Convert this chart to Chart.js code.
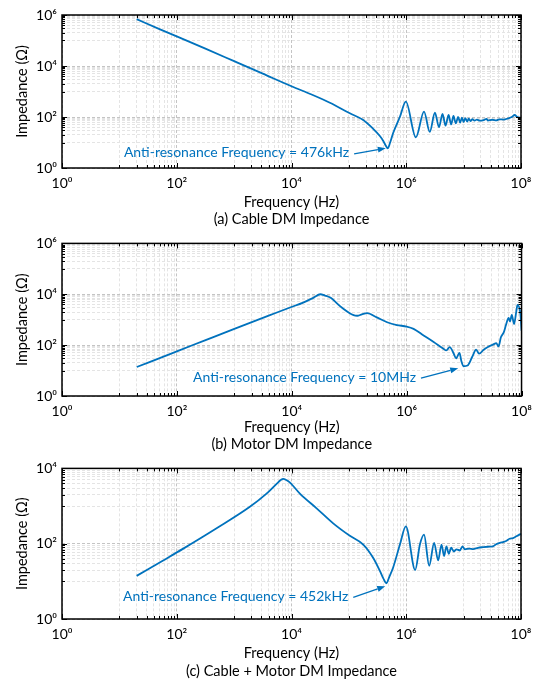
<!DOCTYPE html>
<html><head><meta charset="utf-8">
<script src="https://cdn.jsdelivr.net/npm/chart.js@4"></script>
<style>
html,body{margin:0;padding:0;background:#fff;}
body{width:539px;height:682px;position:relative;overflow:hidden;}
.panel{position:absolute;left:0;width:539px;}
</style></head><body>
<div class="panel" style="top:0;height:230px"><canvas id="ca"></canvas></div>
<div class="panel" style="top:230px;height:225px"><canvas id="cb"></canvas></div>
<div class="panel" style="top:455px;height:227px"><canvas id="cc"></canvas></div>
<script>
// ---- data ----
const cableFreq = [20,50,100,316,1000,3160,1e4,22400,46700,104000,178000,263000,347000,398000,440000,476000,520000,589000,776000,984000,1.47e6,2.04e6,2.57e6,3.16e6,3.72e6,4.29e6,4.84e6,5.46e6,6.07e6,6.65e6,7.31e6,8.02e6,8.71e6,9.33e6,1e7,1.07e7,1.15e7,1.23e7,1.32e7,1.41e7,1.55e7,1.7e7,1.9e7,2.24e7,2.51e7,2.63e7,3.16e7,3.72e7,4.17e7,5.0e7,6.0e7,6.9e7,7.76e7,8.7e7,1e8];
const cableZ    = [6.9e5,2.8e5,1.45e5,4.8e4,1.55e4,5.0e3,1.6e3,760,363,140,76,35,18,11.5,7.5,5.9,9.5,23,102,400,16,162,26,148,40,132,46,120,51,110,56,102,60,95,63,91,66,87,69,83,72,79,72,76,85,72,78,74,81,79,89,100,120,98,95];

const motorFreq = [20,100,316,1000,4170,9330,15800,24000,31300,38000,46700,74100,119000,138000,166000,204000,302000,457000,676000,1e6,1.32e6,1.97e6,2.95e6,4.37e6,4.9e6,5.62e6,6.61e6,7.24e6,8.32e6,8.91e6,9.77e6,1.15e7,1.38e7,1.62e7,1.82e7,2.19e7,2.69e7,3.24e7,3.63e7,3.98e7,4.37e7,4.9e7,5.37e7,5.96e7,6.31e7,6.76e7,7.41e7,8.13e7,8.51e7,9.55e7,1e8];
const motorZ    = [13.8,57,158,437,1510,3020,4680,7410,10000,8900,7400,3020,1510,1430,1620,1820,1230,794,617,537,437,240,132,72,62,83,46,30,50,25,14.8,15.8,34,66,46,66,89,107,120,89,204,316,631,1175,851,1550,676,2240,3800,1660,372];

const combFreq = [20,58,130,495,1880,3670,5500,6600,7160,7940,9330,14000,27400,53300,104000,178000,263000,347000,398000,452000,501000,589000,776000,984000,1.43e6,1.73e6,2.04e6,2.51e6,3.06e6,3.6e6,4.12e6,4.57e6,5.01e6,5.52e6,6.07e6,6.76e6,7.52e6,8.59e6,9.55e6,1.05e7,1.26e7,1.46e7,1.78e7,2.19e7,2.63e7,3.24e7,3.63e7,4.27e7,5.01e7,5.62e7,6.31e7,7.24e7,8.32e7,1e8];
const combZ    = [14,36,74,257,955,2140,3890,5000,5250,5000,4270,2140,871,347,162,95,43,19,12,8.9,12.6,23,95,288,20,95,174,26,105,36,95,47,85,54,78,62,71,66,85,71,74,72,78,81,83,85,95,105,112,120,135,141,158,182];

const xLabelExps = [0,2,4,6,8];
const yLabelExpsAB = [0,2,4,6];
const yLabelExpsC = [0,2,4];
const captions = ['(a) Cable DM Impedance','(b) Motor DM Impedance','(c) Cable + Motor DM Impedance'];
const annoTexts = ['Anti-resonance Frequency = 476kHz','Anti-resonance Frequency = 10MHz','Anti-resonance Frequency = 452kHz'];

// ---- styling / helpers ----
const FONT = "Lato, 'DejaVu Sans', sans-serif";
const BLUE = '#0072BD';
const SUP = {'0':'\u2070','1':'\u00B9','2':'\u00B2','3':'\u00B3','4':'\u2074','5':'\u2075','6':'\u2076','7':'\u2077','8':'\u2078','9':'\u2079'};

function expOf(v){ const e = Math.log10(v); const r = Math.round(e); return Math.abs(e-r) < 1e-6 ? r : null; }
function isMajor(v){ const r = expOf(v); return r !== null && r % 2 === 0; }
function gridTicks(minE, maxE){
  const t = [];
  for (let e = minE; e <= maxE; e++) {
    if (e % 2 === 0) t.push({value: Math.pow(10, e)});
    else for (let k = 1; k <= 9; k++) t.push({value: k * Math.pow(10, e)});
  }
  return t;
}
function labelFor(v, exps){
  const r = expOf(v);
  if (r === null || exps.indexOf(r) < 0) return '';
  return '10' + SUP[String(r)];
}

const framePlugin = {
  id: 'frameTicks',
  afterDraw(chart){
    const {ctx, chartArea: a, scales: {x, y}} = chart;
    ctx.save();
    ctx.strokeStyle = '#000';
    ctx.lineWidth = 1;
    ctx.beginPath();
    for (const t of x.ticks) {
      const px = Math.round(x.getPixelForValue(t.value)) + 0.5;
      const L = isMajor(t.value) ? 5 : 3;
      ctx.moveTo(px, a.bottom); ctx.lineTo(px, a.bottom - L);
      ctx.moveTo(px, a.top); ctx.lineTo(px, a.top + L);
    }
    for (const t of y.ticks) {
      const py = Math.round(y.getPixelForValue(t.value)) + 0.5;
      const L = isMajor(t.value) ? 5 : 3;
      ctx.moveTo(a.left, py); ctx.lineTo(a.left + L, py);
      ctx.moveTo(a.right, py); ctx.lineTo(a.right - L, py);
    }
    ctx.stroke();
    ctx.lineWidth = 1.5;
    ctx.strokeRect(a.left, a.top, a.right - a.left, a.bottom - a.top);
    ctx.restore();
  }
};

const annoPlugin = {
  id: 'antiRes',
  afterDatasetsDraw(chart, args, opts){
    if (!opts || !opts.text) return;
    const {ctx, scales: {x, y}} = chart;
    ctx.save();
    ctx.font = '14px ' + FONT;
    ctx.fillStyle = BLUE;
    ctx.textBaseline = 'middle';
    ctx.textAlign = 'left';
    const tx = x.getPixelForValue(opts.textAt[0]);
    const ty = y.getPixelForValue(opts.textAt[1]);
    ctx.fillText(opts.text, tx, ty);
    const w = ctx.measureText(opts.text).width;
    const sx = tx + w + 5, sy = ty + 1;
    const ex = x.getPixelForValue(opts.tip[0]);
    const ey = y.getPixelForValue(opts.tip[1]);
    const ang = Math.atan2(ey - sy, ex - sx);
    const hl = 8, hw = 3;
    const bx = ex - hl * Math.cos(ang), by = ey - hl * Math.sin(ang);
    ctx.strokeStyle = BLUE;
    ctx.lineWidth = 1.2;
    ctx.beginPath(); ctx.moveTo(sx, sy); ctx.lineTo(bx, by); ctx.stroke();
    ctx.beginPath();
    ctx.moveTo(ex, ey);
    ctx.lineTo(bx - hw * Math.sin(ang), by + hw * Math.cos(ang));
    ctx.lineTo(bx + hw * Math.sin(ang), by - hw * Math.cos(ang));
    ctx.closePath(); ctx.fill();
    ctx.restore();
  }
};

function makeChart(id, freq, z, yMaxExp, yExps, caption, cfg){
  const pts = freq.map((f, i) => ({x: f, y: z[i]}));
  const gridColor = c => (c.tick && isMajor(c.tick.value)) ? '#c4c4c4' : '#e4e4e4';
  return new Chart(document.getElementById(id), {
    type: 'line',
    data: {datasets: [{data: pts, borderColor: BLUE, borderWidth: 1.8, pointRadius: 0, cubicInterpolationMode: 'monotone', fill: false}]},
    options: {
      responsive: true, maintainAspectRatio: false, animation: false,
      layout: {padding: {top: cfg.padTop, right: cfg.padRight, left: 0, bottom: 0}},
      plugins: {
        legend: {display: false}, tooltip: {enabled: false},
        antiRes: cfg.anno
      },
      scales: {
        x: {
          type: 'logarithmic', min: 1, max: 1e8,
          afterBuildTicks: s => { s.ticks = gridTicks(0, 8); },
          afterFit: s => { s.height = cfg.xAxisH; },
          ticks: {autoSkip: false, maxRotation: 0, padding: 7, color: '#000', font: {family: FONT, size: 14},
                  callback: v => labelFor(v, xLabelExps)},
          grid: {drawTicks: false, color: gridColor, lineWidth: 1},
          border: {display: false, dash: [3, 2]},
          title: {display: true, text: ['Frequency (Hz)', caption], color: '#000',
                  font: {family: FONT, size: 14.5, lineHeight: 1.2}, padding: {top: 0, bottom: cfg.titlePad}}
        },
        y: {
          type: 'logarithmic', min: 1, max: Math.pow(10, yMaxExp),
          afterBuildTicks: s => { s.ticks = gridTicks(0, yMaxExp); },
          afterFit: s => { s.width = 62; },
          ticks: {autoSkip: false, padding: 5, color: '#000', font: {family: FONT, size: 14},
                  callback: v => labelFor(v, yExps)},
          grid: {drawTicks: false, color: gridColor, lineWidth: 1},
          border: {display: false, dash: [3, 2]},
          title: {display: true, text: 'Impedance (\u03A9)', color: '#000',
                  font: {family: FONT, size: 14.5, lineHeight: 1.2}, padding: {top: 14, bottom: 0}}
        }
      }
    },
    plugins: [framePlugin, annoPlugin]
  });
}

makeChart('ca', cableFreq, cableZ, 6, yLabelExpsAB, captions[0],
  {padTop: 15, padRight: 18, xAxisH: 62, titlePad: 2,
   anno: {text: annoTexts[0], textAt: [12, 3.9], tip: [4.4e5, 6.0]}});
makeChart('cb', motorFreq, motorZ, 6, yLabelExpsAB, captions[1],
  {padTop: 12, padRight: 17, xAxisH: 59, titlePad: 2,
   anno: {text: annoTexts[1], textAt: [191, 5.5], tip: [7.9e6, 12.3]}});
makeChart('cc', combFreq, combZ, 4, yLabelExpsC, captions[2],
  {padTop: 11, padRight: 18, xAxisH: 63, titlePad: 2.4,
   anno: {text: annoTexts[2], textAt: [11.6, 4.0], tip: [4.3e5, 7.4]}});
</script>
</body></html>
